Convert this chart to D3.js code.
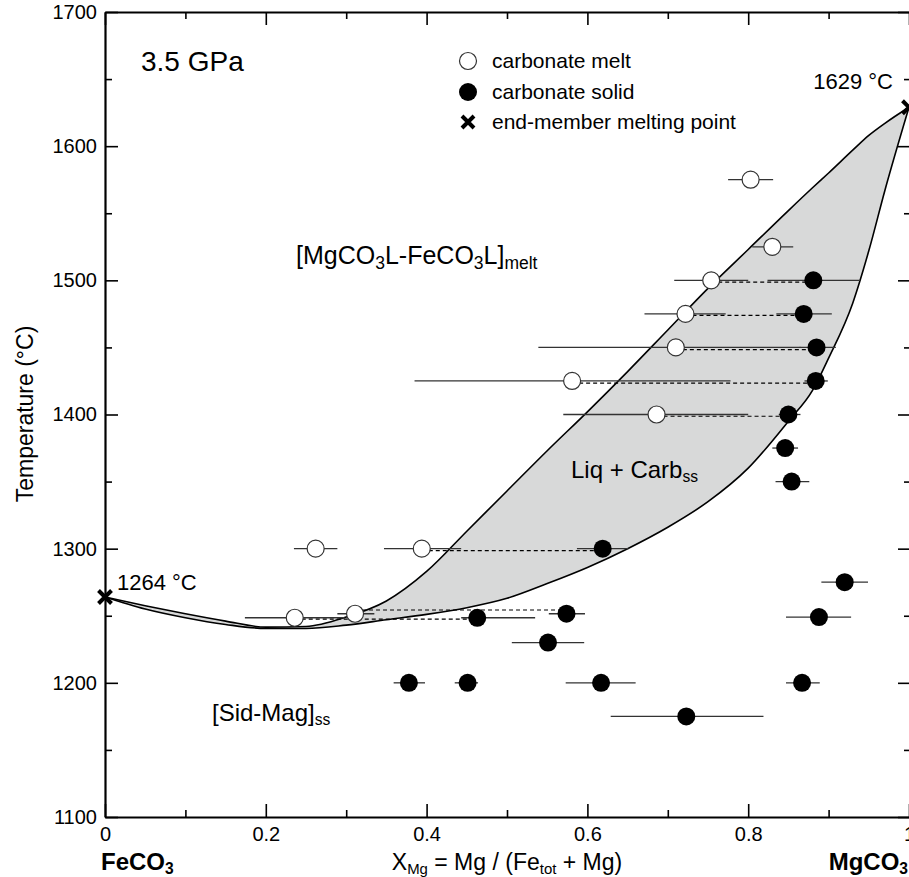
<!DOCTYPE html>
<html>
<head>
<meta charset="utf-8">
<script src="https://cdn.jsdelivr.net/npm/d3@7"></script>
<style>
  body { margin: 0; background: #fff; }
  text { font-family: "Liberation Sans", Arial, sans-serif; fill: #000; }
</style>
</head>
<body>
<script>
const width = 909;
const height = 877;

// axis ticks
const tempMajor = [1100, 1200, 1300, 1400, 1500, 1600, 1700];
const tempMinor = [1150, 1250, 1350, 1450, 1550, 1650];
const xMajor = [0, 0.2, 0.4, 0.6, 0.8, 1];
const xMinor = [0.1, 0.3, 0.5, 0.7, 0.9];

// phase boundaries (X_Mg, T for liquidus and solidus)
const phaseX = [0, 0.05, 0.1, 0.15, 0.2, 0.25, 0.3, 0.35, 0.4, 0.45, 0.5, 0.55, 0.6, 0.65, 0.7, 0.75, 0.8, 0.85, 0.88, 0.9, 0.93, 0.95, 0.97, 1];
const liquidusT = [1264, 1257.5, 1251.5, 1246, 1241.5, 1242, 1249, 1261, 1283, 1313, 1343, 1373, 1402, 1432, 1463, 1494, 1523, 1552, 1569, 1580, 1597, 1608, 1617, 1629];
const solidusT = [1264, 1255, 1248.5, 1243.5, 1240.5, 1240.5, 1243, 1247, 1251, 1256, 1263, 1274, 1286, 1300, 1316, 1335, 1360, 1395, 1418, 1442, 1483, 1522, 1567, 1629];

// carbonate melt (open circles): x, T, error low, error high
const meltX = [0.803, 0.830, 0.754, 0.722, 0.710, 0.581, 0.686, 0.262, 0.394, 0.311, 0.236];
const meltT = [1575, 1525, 1500, 1475, 1450, 1425, 1400, 1300, 1300, 1251.5, 1248.5];
const meltLo = [0.775, 0.805, 0.708, 0.671, 0.539, 0.385, 0.570, 0.235, 0.347, 0.289, 0.174];
const meltHi = [0.831, 0.856, 0.800, 0.772, 0.865, 0.778, 0.800, 0.289, 0.443, 0.335, 0.298];

// carbonate solid (filled circles)
const solidX = [0.881, 0.869, 0.885, 0.884, 0.850, 0.846, 0.854, 0.619, 0.920, 0.574, 0.463, 0.888, 0.551, 0.378, 0.451, 0.617, 0.867, 0.723];
const solidT = [1500, 1475, 1450, 1425, 1400, 1375, 1350, 1300, 1275, 1251.5, 1248.5, 1249, 1230, 1200, 1200, 1200, 1200, 1175];
const solidLo = [0.824, 0.835, 0.864, 0.870, 0.838, 0.830, 0.834, 0.587, 0.891, 0.552, 0.443, 0.847, 0.506, 0.359, 0.435, 0.573, 0.847, 0.629];
const solidHi = [0.939, 0.904, 0.909, 0.899, 0.865, 0.862, 0.876, 0.651, 0.949, 0.597, 0.535, 0.928, 0.596, 0.398, 0.464, 0.660, 0.889, 0.819];

// dashed tie lines melt -> solid
const tieT = [1498.7, 1473.9, 1448.3, 1423.4, 1398.7, 1298.5, 1254.3, 1247.5];
const tieFrom = [0.754, 0.722, 0.710, 0.581, 0.686, 0.394, 0.311, 0.236];
const tieTo = [0.881, 0.869, 0.885, 0.884, 0.850, 0.619, 0.574, 0.463];

// end-member melting points
const endX = [0, 1];
const endT = [1264, 1629];
const endLabel = ["1264 °C", "1629 °C"];

const svg = d3.select("body").append("svg")
  .attr("width", width)
  .attr("height", height);

const x = d3.scaleLinear().domain([0, 1]).range([105, 909]);
const y = d3.scaleLinear().domain([1100, 1700]).range([817, 12]);

const phase = phaseX.map((d, i) => ({ x: d, liq: liquidusT[i], sol: solidusT[i] }));
const melt = meltX.map((d, i) => ({ x: d, t: meltT[i], lo: meltLo[i], hi: meltHi[i] }));
const solid = solidX.map((d, i) => ({ x: d, t: solidT[i], lo: solidLo[i], hi: solidHi[i] }));
const ties = tieT.map((d, i) => ({ t: d, a: tieFrom[i], b: tieTo[i] }));

// grey two-phase field
svg.append("path")
  .datum(phase)
  .attr("fill", "#d8d9d9")
  .attr("d", d3.area()
    .x(d => x(d.x))
    .y0(d => y(d.sol))
    .y1(d => y(d.liq))
    .curve(d3.curveMonotoneX));

["liq", "sol"].forEach(k => {
  svg.append("path")
    .datum(phase)
    .attr("fill", "none")
    .attr("stroke", "#000")
    .attr("stroke-width", 1.6)
    .attr("d", d3.line()
      .x(d => x(d.x))
      .y(d => y(d[k]))
      .curve(d3.curveMonotoneX));
});

// error bars
const errs = melt.concat(solid);
svg.append("g").selectAll("line")
  .data(errs)
  .join("line")
  .attr("x1", d => x(d.lo))
  .attr("x2", d => x(d.hi))
  .attr("y1", d => y(d.t))
  .attr("y2", d => y(d.t))
  .attr("stroke", "#333")
  .attr("stroke-width", 1.3);

// tie lines
svg.append("g").selectAll("line")
  .data(ties)
  .join("line")
  .attr("x1", d => x(d.a))
  .attr("x2", d => x(d.b))
  .attr("y1", d => y(d.t))
  .attr("y2", d => y(d.t))
  .attr("stroke", "#000")
  .attr("stroke-width", 1.2)
  .attr("stroke-dasharray", "4,3");

// circles
svg.append("g").selectAll("circle")
  .data(melt)
  .join("circle")
  .attr("cx", d => x(d.x))
  .attr("cy", d => y(d.t))
  .attr("r", 8.5)
  .attr("fill", "#fff")
  .attr("stroke", "#333")
  .attr("stroke-width", 1.2);

svg.append("g").selectAll("circle")
  .data(solid)
  .join("circle")
  .attr("cx", d => x(d.x))
  .attr("cy", d => y(d.t))
  .attr("r", 9)
  .attr("fill", "#000");

function cross(g, cx, cy, s) {
  g.append("path")
    .attr("d", `M${cx - s},${cy - s}L${cx + s},${cy + s}M${cx - s},${cy + s}L${cx + s},${cy - s}`)
    .attr("stroke", "#000")
    .attr("stroke-width", 4)
    .attr("fill", "none");
}

endX.forEach((d, i) => cross(svg, x(d), y(endT[i]), 6.5));

svg.append("text").attr("x", 117).attr("y", 590).attr("font-size", 22).text(endLabel[0]);
svg.append("text").attr("x", 893).attr("y", 89).attr("font-size", 22).attr("text-anchor", "end").text(endLabel[1]);

// axes
const axisStyle = g => {
  g.selectAll(".domain").attr("stroke-width", 2.2);
  g.selectAll(".tick line").attr("stroke-width", 1.6);
  g.selectAll("text").attr("font-size", 20).attr("font-family", "Liberation Sans, Arial, sans-serif");
};

svg.append("g").attr("transform", "translate(105,0)")
  .call(d3.axisLeft(y).tickValues(tempMajor).tickSize(-13).tickSizeOuter(0).tickPadding(8).tickFormat(d3.format("d")))
  .call(axisStyle);
svg.append("g").attr("transform", "translate(105,0)")
  .call(d3.axisLeft(y).tickValues(tempMinor).tickSize(-7).tickSizeOuter(0).tickFormat(""))
  .call(g => g.select(".domain").remove())
  .call(axisStyle);

svg.append("g").attr("transform", "translate(0,817)")
  .call(d3.axisBottom(x).tickValues(xMajor).tickSize(-13).tickSizeOuter(0).tickPadding(10).tickFormat(d => String(d)))
  .call(axisStyle);
svg.append("g").attr("transform", "translate(0,817)")
  .call(d3.axisBottom(x).tickValues(xMinor).tickSize(-7).tickSizeOuter(0).tickFormat(""))
  .call(g => g.select(".domain").remove())
  .call(axisStyle);

svg.append("g").attr("transform", "translate(0,12)")
  .call(d3.axisTop(x).tickValues(xMajor).tickSize(-13).tickSizeOuter(0).tickFormat(""))
  .call(axisStyle);
svg.append("g").attr("transform", "translate(0,12)")
  .call(d3.axisTop(x).tickValues(xMinor).tickSize(-7).tickSizeOuter(0).tickFormat(""))
  .call(g => g.select(".domain").remove())
  .call(axisStyle);

svg.append("g").attr("transform", "translate(911,0)")
  .call(d3.axisRight(y).tickValues(tempMajor).tickSize(-13).tickSizeOuter(0).tickFormat(""))
  .call(g => g.select(".domain").remove())
  .call(axisStyle);
svg.append("g").attr("transform", "translate(911,0)")
  .call(d3.axisRight(y).tickValues(tempMinor).tickSize(-7).tickSizeOuter(0).tickFormat(""))
  .call(g => g.select(".domain").remove())
  .call(axisStyle);

// labels with subscripts
function label(parts, px, py, size, opts = {}) {
  const t = svg.append("text")
    .attr("x", px).attr("y", py)
    .attr("font-size", size)
    .attr("text-anchor", opts.anchor || "start")
    .attr("font-weight", opts.bold ? "bold" : null);
  if (opts.rotate) t.attr("transform", `rotate(-90,${px},${py})`);
  parts.forEach(p => {
    if (typeof p === "string") {
      t.append("tspan").text(p);
    } else {
      t.append("tspan").attr("font-size", size * (opts.subScale || 0.65)).attr("baseline-shift", "-28%").text(p.sub);
    }
  });
  return t;
}

label(["3.5 GPa"], 141, 71, 28);
label(["[MgCO", { sub: "3" }, "L-FeCO", { sub: "3" }, "L]", { sub: "melt" }], 296, 264, 25, { subScale: 0.7 });
label(["Liq + Carb", { sub: "ss" }], 571, 478, 24);
label(["[Sid-Mag]", { sub: "ss" }], 212, 721, 24);
label(["Temperature (°C)"], 33, 414, 23, { anchor: "middle", rotate: true });
label(["X", { sub: "Mg" }, " = Mg / (Fe", { sub: "tot" }, " + Mg)"], 507, 870, 23, { anchor: "middle" });
label(["FeCO", { sub: "3" }], 101, 870, 24, { bold: true });
label(["MgCO", { sub: "3" }], 908, 870, 24, { bold: true, anchor: "end" });

// legend
const legend = svg.append("g");
legend.append("circle").attr("cx", 468).attr("cy", 61).attr("r", 8.5).attr("fill", "#fff").attr("stroke", "#333").attr("stroke-width", 1.2);
legend.append("circle").attr("cx", 468).attr("cy", 92).attr("r", 9).attr("fill", "#000");
cross(legend, 468, 122, 6);
label(["carbonate melt"], 492, 68, 21);
label(["carbonate solid"], 492, 99, 21);
label(["end-member melting point"], 492, 129, 21);
</script>
</body>
</html>
